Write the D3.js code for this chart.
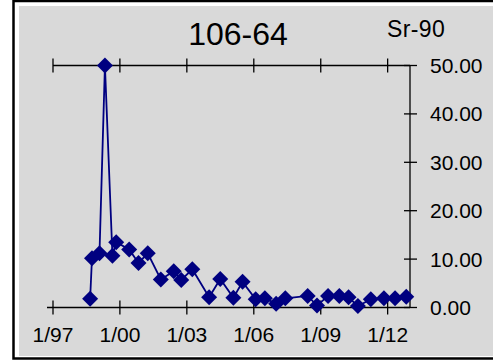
<!DOCTYPE html>
<html>
<head>
<meta charset="utf-8">
<script src="https://cdn.jsdelivr.net/npm/d3@7"></script>
<style>
  body { margin: 0; background: #fff; }
  text { font-family: "Liberation Sans", Arial, sans-serif; fill: #000; }
</style>
</head>
<body>
<div id="chart"></div>
<script>
// sample dates (year-month) and Sr-90 values
var dates = ["1998-09", "1998-10", "1999-02", "1999-05", "1999-09", "1999-11",
    "2000-06", "2000-11", "2001-04", "2001-11", "2002-06", "2002-10",
    "2003-04", "2004-01", "2004-07", "2005-02", "2005-07", "2006-02",
    "2006-07", "2007-01", "2007-06", "2008-06", "2008-11", "2009-05",
    "2009-11", "2010-04", "2010-09", "2011-04", "2011-11", "2012-05", "2012-11"];
var values = [1.8, 10.2, 11.2, 50.0, 10.7, 13.5,
    12.0, 9.2, 11.2, 5.8, 7.5, 5.7,
    7.9, 2.1, 5.9, 2.0, 5.3, 1.7,
    1.9, 0.8, 1.9, 2.4, 0.4, 2.4,
    2.4, 2.1, 0.3, 1.7, 1.9, 1.9, 2.2];
var xTickYears = [1997, 2000, 2003, 2006, 2009, 2012];
var yTicks = [0, 10, 20, 30, 40, 50];
var title = "106-64";
var analyte = "Sr-90";

var width = 493, height = 361;
var parse = d3.timeParse("%Y-%m");
var data = dates.map(function(d, i) { return { date: parse(d), value: values[i] }; });

var svg = d3.select("#chart").append("svg")
    .attr("width", width)
    .attr("height", height);

svg.append("rect").attr("width", width).attr("height", height).attr("fill", "#fff");

// frame
svg.append("rect")
    .attr("x", 13.5).attr("y", 1).attr("width", 500).attr("height", 357.5)
    .attr("fill", "none").attr("stroke", "#000").attr("stroke-width", 2.5);
svg.append("rect")
    .attr("x", 19).attr("y", 6).attr("width", 480).attr("height", 350)
    .attr("fill", "#d9d9d9");

var x = d3.scaleTime()
    .domain([new Date(1997, 0, 1), new Date(2013, 0, 1)])
    .range([53, 410]);
var y = d3.scaleLinear()
    .domain([0, 50])
    .range([307.5, 65.5]);

var xTicks = xTickYears.map(function(yr) { return new Date(yr, 0, 1); });

// bottom axis
var gb = svg.append("g").attr("stroke", "#000").attr("stroke-width", 1.3);
gb.append("line").attr("x1", 47).attr("x2", x.range()[1]).attr("y1", y(0)).attr("y2", y(0));
gb.selectAll(".bt").data(xTicks).enter().append("line")
    .attr("x1", function(d) { return x(d); }).attr("x2", function(d) { return x(d); })
    .attr("y1", y(0) - 7).attr("y2", y(0) + 7);

// top axis
gb.append("line").attr("x1", x.range()[0]).attr("x2", x.range()[1]).attr("y1", y(50)).attr("y2", y(50));
gb.selectAll(".tt").data(xTicks).enter().append("line")
    .attr("x1", function(d) { return x(d); }).attr("x2", function(d) { return x(d); })
    .attr("y1", y(50) - 7).attr("y2", y(50) + 7);

// right axis
gb.append("line").attr("x1", 410).attr("x2", 410).attr("y1", y(0)).attr("y2", y(50));
gb.selectAll(".rt").data(yTicks).enter().append("line")
    .attr("x1", 404).attr("x2", 417)
    .attr("y1", function(d) { return y(d); }).attr("y2", function(d) { return y(d); });

svg.selectAll(".xl").data(xTicks).enter().append("text")
    .attr("x", function(d) { return x(d); })
    .attr("y", 342)
    .attr("text-anchor", "middle")
    .style("font-size", "21px")
    .text(d3.timeFormat("1/%y"));

svg.selectAll(".yl").data(yTicks).enter().append("text")
    .attr("x", 430)
    .attr("y", function(d) { return y(d) + 7.5; })
    .style("font-size", "21px")
    .text(function(d) { return d3.format(".2f")(d); });

svg.append("text")
    .attr("x", 238).attr("y", 45)
    .attr("text-anchor", "middle")
    .style("font-size", "32px")
    .text(title);

svg.append("text")
    .attr("x", 387).attr("y", 37)
    .style("font-size", "23px")
    .style("letter-spacing", "0.4px")
    .text(analyte);

var line = d3.line()
    .x(function(d) { return x(d.date); })
    .y(function(d) { return y(d.value); });

svg.append("path")
    .datum(data)
    .attr("d", line)
    .attr("fill", "none")
    .attr("stroke", "#000080")
    .attr("stroke-width", 1.8);

var diamond = d3.symbol().type(d3.symbolSquare).size(128);
svg.selectAll(".pt").data(data).enter().append("path")
    .attr("d", diamond)
    .attr("transform", function(d) { return "translate(" + x(d.date) + "," + y(d.value) + ") rotate(45)"; })
    .attr("fill", "#000080");
</script>
</body>
</html>
